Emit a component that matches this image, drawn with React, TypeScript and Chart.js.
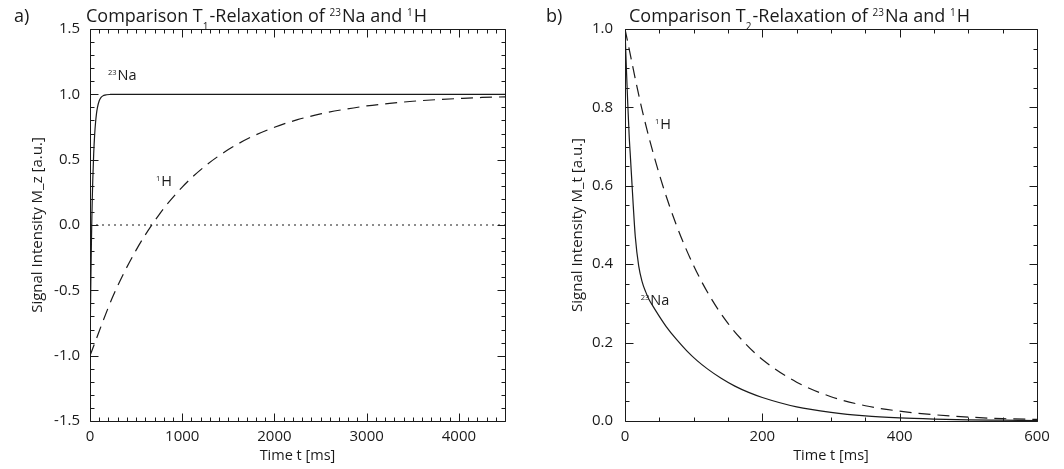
import React, { useEffect, useRef } from "react";
import { Chart, registerables } from "chart.js";

Chart.register(...registerables);

const FONT = "'Open Sans', 'DejaVu Sans', sans-serif";
const INK = "#1a1a1a";

// ---------- Panel a) T1 relaxation ----------
const t1NaTime = [0, 5, 10, 15, 20, 25, 30, 40, 50, 60, 70, 80, 100, 120, 150, 180, 220, 300, 500, 1000, 2000, 3000, 4500];
const t1NaSignal = [-1.0, -0.662, -0.381, -0.147, 0.047, 0.208, 0.342, 0.545, 0.686, 0.783, 0.85, 0.897, 0.951, 0.977, 0.992, 0.997, 0.999, 1.0, 1.0, 1.0, 1.0, 1.0, 1.0];
const t1HTime = [0, 250, 500, 750, 1000, 1250, 1500, 1750, 2000, 2250, 2500, 2750, 3000, 3250, 3500, 3750, 4000, 4250, 4500];
const t1HSignal = [-1.0, -0.544, -0.192, 0.08, 0.29, 0.452, 0.577, 0.674, 0.748, 0.806, 0.85, 0.884, 0.911, 0.931, 0.947, 0.959, 0.968, 0.976, 0.981];
const t1ZeroTime = [0, 4500];
const t1ZeroSignal = [0, 0];
const t1XTicks = [0, 1000, 2000, 3000, 4000];
const t1YTicks = [-1.5, -1.0, -0.5, 0.0, 0.5, 1.0, 1.5];

// ---------- Panel b) T2 relaxation ----------
const t2NaTime = [0, 2, 4, 6, 8, 10, 12, 15, 20, 25, 30, 35, 40, 50, 60, 75, 90, 105, 120, 140, 160, 180, 200, 250, 300, 350, 400, 450, 500, 550, 600];
const t2NaSignal = [1.0, 0.9, 0.81, 0.73, 0.67, 0.61, 0.55, 0.47, 0.395, 0.355, 0.33, 0.31, 0.295, 0.267, 0.241, 0.208, 0.179, 0.154, 0.133, 0.109, 0.089, 0.073, 0.06, 0.036, 0.022, 0.013, 0.008, 0.005, 0.003, 0.002, 0.001];
const t2HTime = [0, 25, 50, 75, 100, 125, 150, 175, 200, 250, 300, 350, 400, 450, 500, 550, 600];
const t2HSignal = [1.0, 0.793, 0.629, 0.499, 0.396, 0.314, 0.249, 0.198, 0.157, 0.099, 0.062, 0.039, 0.025, 0.016, 0.01, 0.006, 0.004];
const t2XTicks = [0, 200, 400, 600];
const t2YTicks = [0.0, 0.2, 0.4, 0.6, 0.8, 1.0];

type Seg = { t: string; k?: "sup" | "sub" };
type CurveLabel = { x: number; y: number; segs: Seg[] };

interface Panel {
  letter: string;
  title: Seg[];
  titleX: number;
  yTitle: string;
  yTitleX: number;
  yTickPad: number;
  yAxisWidth: number;
  xMin: number; xMax: number; xMinor: number; xMajor: number;
  yMin: number; yMax: number; yMinor: number; yMajor: number;
  xTicks: number[]; yTicks: number[];
  datasets: any[];
  labels: CurveLabel[];
}

const pts = (xs: number[], ys: number[]) => xs.map((x, i) => ({ x, y: ys[i] }));

const solid = (data: any) => ({
  data, borderColor: INK, borderWidth: 1.2, pointRadius: 0, fill: false,
  cubicInterpolationMode: "monotone" as const,
});
const dashed = (data: any) => ({ ...solid(data), borderDash: [12, 7] });

const panelA: Panel = {
  letter: "a)",
  title: [{ t: "Comparison T" }, { t: "1", k: "sub" }, { t: "-Relaxation of " }, { t: "23", k: "sup" }, { t: "Na and " }, { t: "1", k: "sup" }, { t: "H" }],
  titleX: 86,
  yTitle: "Signal Intensity M_z [a.u.]",
  yTitleX: 38,
  yTickPad: 10,
  yAxisWidth: 90,
  xMin: 0, xMax: 4500, xMinor: 100, xMajor: 1000,
  yMin: -1.5, yMax: 1.5, yMinor: 0.1, yMajor: 0.5,
  xTicks: t1XTicks, yTicks: t1YTicks,
  datasets: [
    { ...solid(pts(t1ZeroTime, t1ZeroSignal)), borderWidth: 1, borderDash: [2, 4], cubicInterpolationMode: "default" },
    solid(pts(t1NaTime, t1NaSignal)),
    dashed(pts(t1HTime, t1HSignal)),
  ],
  labels: [
    { x: 195, y: 1.11, segs: [{ t: "23", k: "sup" }, { t: "Na" }] },
    { x: 716, y: 0.298, segs: [{ t: "1", k: "sup" }, { t: "H" }] },
  ],
};

const panelB: Panel = {
  letter: "b)",
  title: [{ t: "Comparison T" }, { t: "2", k: "sub" }, { t: "-Relaxation of " }, { t: "23", k: "sup" }, { t: "Na and " }, { t: "1", k: "sup" }, { t: "H" }],
  titleX: 97,
  yTitle: "Signal Intensity M_t [a.u.]",
  yTitleX: 46,
  yTickPad: 12,
  yAxisWidth: 93,
  xMin: 0, xMax: 600, xMinor: 50, xMajor: 200,
  yMin: 0, yMax: 1.0, yMinor: 0.05, yMajor: 0.2,
  xTicks: t2XTicks, yTicks: t2YTicks,
  datasets: [
    solid(pts(t2NaTime, t2NaSignal)),
    dashed(pts(t2HTime, t2HSignal)),
  ],
  labels: [
    { x: 43.7, y: 0.744, segs: [{ t: "1", k: "sup" }, { t: "H" }] },
    { x: 22.8, y: 0.296, segs: [{ t: "23", k: "sup" }, { t: "Na" }] },
  ],
};

function drawRich(ctx: CanvasRenderingContext2D, segs: Seg[], x: number, y: number, size: number, subSize: number) {
  let cx = x;
  for (const s of segs) {
    const sz = s.k ? subSize : size;
    ctx.font = `${sz}px ${FONT}`;
    const dy = s.k === "sup" ? -size * 0.36 : s.k === "sub" ? size * 0.42 : 0;
    ctx.fillText(s.t, cx, y + dy);
    cx += ctx.measureText(s.t).width + (s.k ? 1 : 0);
  }
}

function isMultiple(v: number, step: number) {
  const r = v / step;
  return Math.abs(r - Math.round(r)) < 1e-6;
}

function makePlugin(p: Panel) {
  return {
    id: "decor",
    afterDraw(chart: any) {
      const ctx: CanvasRenderingContext2D = chart.ctx;
      const { left, right, top, bottom } = chart.chartArea;
      const xs = chart.scales.x;
      const ys = chart.scales.y;
      ctx.save();
      ctx.strokeStyle = INK;
      ctx.fillStyle = INK;
      ctx.lineWidth = 1;
      const L = Math.round(left) + 0.5, R = Math.round(right) + 0.5;
      const T = Math.round(top) + 0.5, B = Math.round(bottom) + 0.5;
      ctx.beginPath();
      ctx.rect(L, T, R - L, B - T);
      ctx.stroke();
      // inward ticks on all four sides
      ctx.beginPath();
      const nx = Math.round((p.xMax - p.xMin) / p.xMinor);
      for (let i = 0; i <= nx; i++) {
        const v = p.xMin + i * p.xMinor;
        const px = Math.round(xs.getPixelForValue(v)) + 0.5;
        const len = isMultiple(v, p.xMajor) ? 8 : 4;
        ctx.moveTo(px, B); ctx.lineTo(px, B - len);
        ctx.moveTo(px, T); ctx.lineTo(px, T + len);
      }
      const ny = Math.round((p.yMax - p.yMin) / p.yMinor);
      for (let i = 0; i <= ny; i++) {
        const v = p.yMin + i * p.yMinor;
        const py = Math.round(ys.getPixelForValue(v)) + 0.5;
        const len = isMultiple(v, p.yMajor) ? 8 : 4;
        ctx.moveTo(L, py); ctx.lineTo(L + len, py);
        ctx.moveTo(R, py); ctx.lineTo(R - len, py);
      }
      ctx.stroke();

      // titles
      ctx.textBaseline = "alphabetic";
      ctx.textAlign = "left";
      ctx.font = `18px ${FONT}`;
      ctx.fillText(p.letter, 14, 22);
      drawRich(ctx, p.title, p.titleX, 22, 18, 10);

      // x axis title
      ctx.textAlign = "center";
      ctx.font = `14.5px ${FONT}`;
      ctx.fillText("Time t [ms]", (left + right) / 2, 460);

      // y axis title
      ctx.save();
      ctx.translate(p.yTitleX, (top + bottom) / 2);
      ctx.rotate(-Math.PI / 2);
      ctx.textBaseline = "middle";
      ctx.font = `15px ${FONT}`;
      ctx.fillText(p.yTitle, 0, 0);
      ctx.restore();

      // curve labels
      ctx.textAlign = "left";
      ctx.textBaseline = "alphabetic";
      for (const lab of p.labels) {
        drawRich(ctx, lab.segs, xs.getPixelForValue(lab.x), ys.getPixelForValue(lab.y), 14.5, 7.5);
      }
      ctx.restore();
    },
  };
}

function PanelChart({ panel }: { panel: Panel }) {
  const ref = useRef<HTMLCanvasElement | null>(null);
  useEffect(() => {
    if (!ref.current) return;
    const tickFont = { family: FONT, size: 15 };
    const chart = new Chart(ref.current, {
      type: "line",
      data: { datasets: panel.datasets },
      plugins: [makePlugin(panel)],
      options: {
        animation: false,
        responsive: false,
        devicePixelRatio: 1,
        events: [],
        layout: { padding: { top: 29, right: 27, left: 0, bottom: 0 } },
        plugins: { legend: { display: false }, tooltip: { enabled: false }, title: { display: false } },
        scales: {
          x: {
            type: "linear",
            position: "bottom",
            min: panel.xMin,
            max: panel.xMax,
            grid: { display: false, drawTicks: false },
            border: { display: false },
            afterBuildTicks: (s: any) => { s.ticks = panel.xTicks.map((v) => ({ value: v })); },
            afterFit: (s: any) => { s.height = 48; },
            ticks: { font: tickFont, color: INK, padding: 7, maxRotation: 0, autoSkip: false, callback: (v: any) => String(v) },
          },
          y: {
            type: "linear",
            position: "left",
            min: panel.yMin,
            max: panel.yMax,
            grid: { display: false, drawTicks: false },
            border: { display: false },
            afterBuildTicks: (s: any) => { s.ticks = panel.yTicks.map((v) => ({ value: v })); },
            afterFit: (s: any) => { s.width = panel.yAxisWidth; },
            ticks: { font: tickFont, color: INK, padding: panel.yTickPad, autoSkip: false, callback: (v: any) => Number(v).toFixed(1) },
          },
        },
      } as any,
    });
    return () => chart.destroy();
  }, [panel]);
  return (
    <div style={{ width: 532, height: 469 }}>
      <canvas ref={ref} width={532} height={469} style={{ display: "block", width: 532, height: 469 }} />
    </div>
  );
}

export default function App() {
  return (
    <div style={{ position: "absolute", left: 0, top: 0, width: 1064, height: 469, background: "#fff", display: "flex" }}>
      <PanelChart panel={panelA} />
      <PanelChart panel={panelB} />
    </div>
  );
}
